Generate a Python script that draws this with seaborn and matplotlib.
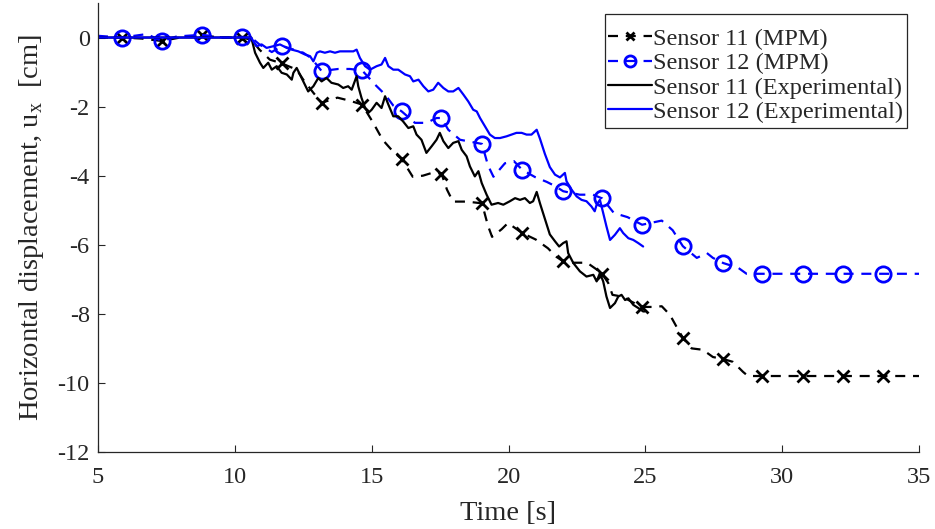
import numpy as np
import pandas as pd
import matplotlib
matplotlib.use("Agg")
import matplotlib.pyplot as plt
from matplotlib.patches import Rectangle
from matplotlib.transforms import IdentityTransform
import seaborn as sns

# ---------------- data ----------------
mpm11_t = [5.0, 5.87, 6.6, 7.33, 8.0, 8.79, 9.5, 10.25, 10.6, 10.9, 11.28, 11.72, 12.26, 12.5,
           12.87, 13.17, 13.75, 14.2, 14.65, 15.05, 15.4, 15.78, 16.1, 16.5, 16.87, 17.24,
           17.55, 17.75, 17.97, 18.48, 19.03, 19.25, 19.4, 19.75, 19.98, 20.5, 21.0, 21.44,
           21.75, 22.0, 22.36, 22.87, 23.23, 23.43, 23.64, 23.8, 24.15, 24.5, 24.88, 25.28,
           25.6, 25.9, 26.2, 26.37, 26.69, 27.1, 27.47, 27.85, 28.2, 28.57, 28.75, 29.28,
           30.76, 32.22, 33.68, 35.0]
mpm11_u = [0.0, 0.0, -0.03, -0.1, 0.0, 0.06, 0.0, 0.0, -0.06, -0.35, -0.64, -0.75, -0.93, -1.22,
           -1.6, -1.89, -1.74, -1.83, -1.94, -2.46, -2.96, -3.3, -3.52, -4.03, -4.0, -3.91,
           -3.94, -4.4, -4.75, -4.75, -4.8, -5.45, -5.77, -5.55, -5.37, -5.66, -5.85, -6.1,
           -6.35, -6.48, -6.52, -6.52, -6.72, -6.85, -7.1, -7.45, -7.5, -7.65, -7.8, -7.8,
           -7.78, -8.03, -8.46, -8.69, -9.0, -9.04, -9.25, -9.31, -9.39, -9.68, -9.8, -9.8,
           -9.8, -9.8, -9.8, -9.8]

mpm12_t = [5.0, 5.87, 6.78, 7.33, 7.87, 8.79, 9.57, 10.25, 10.6, 10.9, 11.35, 11.72, 12.5, 12.8,
           13.17, 13.78, 14.2, 14.65, 15.12, 15.49, 15.79, 16.1, 16.58, 17.0, 17.37, 17.55,
           17.8, 18.23, 18.7, 19.03, 19.25, 19.45, 19.87, 20.2, 20.5, 20.97, 21.4, 21.7,
           22.0, 22.6, 23.09, 23.43, 23.85, 24.35, 24.88, 25.6, 26.0, 26.37, 26.88, 27.25,
           27.47, 27.85, 28.4, 28.7, 29.28, 30.76, 32.22, 33.68, 35.0]
mpm12_u = [0.05, 0.0, 0.1, -0.1, 0.03, 0.08, 0.0, 0.02, 0.0, -0.2, -0.42, -0.24, -0.44, -0.6,
           -0.97, -0.91, -0.91, -0.95, -1.36, -1.65, -1.97, -2.14, -2.47, -2.47, -2.33, -2.33,
           -2.67, -2.96, -3.03, -3.08, -3.7, -4.03, -3.64, -3.58, -3.83, -4.04, -4.18, -4.3,
           -4.45, -4.55, -4.55, -4.66, -5.08, -5.2, -5.42, -5.3, -5.58, -6.04, -6.38, -6.24,
           -6.38, -6.53, -6.67, -6.84, -6.84, -6.84, -6.84, -6.84, -6.84]

marker_t = [5.87, 7.33, 8.79, 10.25, 11.72, 13.17, 14.65, 16.1, 17.55, 19.03, 20.5, 22.0,
            23.43, 24.88, 26.37, 27.85, 29.28, 30.76, 32.22, 33.68]

exp11_t = [5.0, 10.5, 10.6, 10.74, 10.92, 11.04, 11.22, 11.35, 11.53, 11.71, 11.9, 12.08, 12.14,
           12.26, 12.44, 12.68, 12.87, 13.05, 13.17, 13.35, 13.53, 13.78, 13.96, 14.14, 14.27,
           14.45, 14.51, 14.63, 14.76, 14.88, 15.0, 15.18, 15.36, 15.49, 15.61, 15.79, 15.97,
           16.15, 16.34, 16.52, 16.64, 16.82, 17.0, 17.19, 17.37, 17.49, 17.62, 17.8, 17.98,
           18.17, 18.29, 18.47, 18.59, 18.77, 18.9, 19.02, 19.2, 19.38, 19.62, 19.81, 20.05,
           20.24, 20.42, 20.6, 20.78, 20.9, 21.03, 21.15, 21.33, 21.51, 21.7, 21.85, 22.0,
           22.12, 22.18, 22.37, 22.61, 22.85, 23.1, 23.22, 23.34, 23.46, 23.58, 23.71, 23.89,
           24.01, 24.13, 24.26, 24.38, 24.56, 24.74, 24.92, 24.98]
exp11_u = [0.0, 0.0, 0.0, -0.44, -0.73, -0.88, -0.73, -0.93, -0.83, -1.02, -1.07, -1.22, -1.02,
           -0.88, -1.17, -1.56, -1.41, -1.17, -1.27, -1.17, -1.31, -1.36, -1.46, -1.41, -1.51,
           -1.12, -1.41, -1.75, -2.04, -2.18, -2.09, -1.89, -2.04, -1.7, -1.94, -2.28, -2.28,
           -2.43, -2.62, -2.57, -2.81, -2.96, -3.34, -3.15, -2.96, -2.76, -3.0, -3.2, -3.05,
           -3.0, -3.25, -3.44, -3.73, -4.02, -3.87, -4.21, -4.55, -4.84, -4.79, -4.84, -4.74,
           -4.65, -4.7, -4.65, -4.79, -4.74, -4.47, -4.8, -5.25, -5.7, -5.9, -6.05, -5.95,
           -5.9, -6.24, -6.53, -6.77, -6.92, -6.87, -7.06, -6.82, -7.06, -7.5, -7.83, -7.69,
           -7.5, -7.45, -7.6, -7.55, -7.74, -7.83, -7.93, -7.93]

exp12_t = [5.0, 10.5, 10.6, 10.67, 10.8, 10.98, 11.16, 11.41, 11.65, 11.9, 12.08, 12.32, 12.56,
           12.75, 12.87, 13.0, 13.11, 13.29, 13.48, 13.66, 13.84, 14.08, 14.33, 14.45, 14.57,
           14.76, 14.94, 15.18, 15.36, 15.49, 15.61, 15.79, 15.97, 16.22, 16.4, 16.52, 16.71,
           16.89, 17.07, 17.25, 17.43, 17.62, 17.8, 17.98, 18.17, 18.35, 18.53, 18.71, 18.84,
           18.96, 19.14, 19.32, 19.5, 19.69, 19.93, 20.11, 20.29, 20.48, 20.66, 20.84, 21.03,
           21.15, 21.33, 21.51, 21.7, 21.88, 22.06, 22.12, 22.31, 22.49, 22.67, 22.85, 23.03,
           23.15, 23.22, 23.34, 23.46, 23.58, 23.71, 23.89, 24.07, 24.19, 24.38, 24.56, 24.74,
           24.92]
exp12_u = [0.0, 0.0, 0.0, -0.1, -0.25, -0.2, -0.3, -0.25, -0.2, -0.3, -0.35, -0.4, -0.49,
           -0.54, -0.69, -0.44, -0.4, -0.44, -0.4, -0.44, -0.4, -0.4, -0.4, -0.35, -0.59,
           -0.83, -0.93, -0.83, -0.78, -0.59, -0.83, -0.93, -0.93, -1.07, -1.12, -1.27, -1.22,
           -1.41, -1.56, -1.51, -1.31, -1.46, -1.56, -1.56, -1.46, -1.65, -1.85, -2.09, -2.14,
           -2.33, -2.57, -2.81, -2.91, -2.91, -2.86, -2.81, -2.76, -2.76, -2.81, -2.81, -2.67,
           -2.93, -3.37, -3.75, -3.97, -4.05, -3.92, -4.16, -4.41, -4.6, -4.7, -4.74, -4.89,
           -5.03, -4.84, -4.7, -5.08, -5.47, -5.86, -5.71, -5.52, -5.66, -5.81, -5.86, -5.95,
           -6.05]

labels = ["Sensor 11 (MPM)", "Sensor 12 (MPM)",
          "Sensor 11 (Experimental)", "Sensor 12 (Experimental)"]
xticks = [5, 10, 15, 20, 25, 30, 35]
yticks = [0, -2, -4, -6, -8, -10, -12]

# ---------------- styling ----------------
sns.set_theme(style="white")
plt.rcParams["font.family"] = ["Liberation Serif", "DejaVu Serif"]
plt.rcParams["axes.unicode_minus"] = False
plt.rcParams["mathtext.fontset"] = "custom"
plt.rcParams["mathtext.rm"] = "Liberation Serif"

FS = 17.5
FSL = 20.5
W, H = 935, 529
fig = plt.figure(figsize=(W / 100, H / 100), dpi=100)
ax = fig.add_axes([98 / W, 1 - 452 / H, (919 - 98) / W, (452 - 3) / H])


def mark_idx(t):
    t = np.asarray(t)
    return [int(np.argmin(np.abs(t - m))) for m in marker_t]


df11 = pd.DataFrame({"t": mpm11_t, "u": mpm11_u})
df12 = pd.DataFrame({"t": mpm12_t, "u": mpm12_u})
de11 = pd.DataFrame({"t": exp11_t, "u": exp11_u})
de12 = pd.DataFrame({"t": exp12_t, "u": exp12_u})

lw = 1.6
BLUE = "#0000ff"
sns.lineplot(data=df11, x="t", y="u", ax=ax, color="black", lw=lw, estimator=None,
             sort=False, linestyle=(0, (4.5, 3.5)), marker="x", markersize=8,
             markeredgecolor="black", markerfacecolor="black",
             markeredgewidth=2.0, markevery=mark_idx(mpm11_t), label=labels[0])
sns.lineplot(data=df12, x="t", y="u", ax=ax, color=BLUE, lw=lw, estimator=None,
             sort=False, linestyle=(0, (4.5, 3.5)), marker="o", markersize=11,
             markerfacecolor="none", markeredgecolor=BLUE, markeredgewidth=2.0,
             markevery=mark_idx(mpm12_t), label=labels[1])
sns.lineplot(data=de11, x="t", y="u", ax=ax, color="black", lw=lw, estimator=None,
             sort=False, label=labels[2])
sns.lineplot(data=de12, x="t", y="u", ax=ax, color=BLUE, lw=lw, estimator=None,
             sort=False, label=labels[3])

ax.set_xlim(5, 35)
ax.set_ylim(-12, 1)
ax.set_xticks(xticks)
ax.set_yticks(yticks)
ax.set_xticklabels([str(v) for v in xticks], fontsize=FS)
ax.set_yticklabels([str(v) for v in yticks], fontsize=FS)
ax.tick_params(direction="in", length=5, width=0.8, colors="#262626",
               left=True, bottom=True)
ax.tick_params(axis="x", pad=11)
ax.tick_params(axis="y", pad=6)
for s in ["top", "right"]:
    ax.spines[s].set_visible(False)
for s in ["left", "bottom"]:
    ax.spines[s].set_color("#262626")
    ax.spines[s].set_linewidth(0.9)

ax.set_xlabel("Time [s]", fontsize=FSL, labelpad=9)
ax.set_ylabel(r"Horizontal displacement, u$_\mathregular{x}$  [cm]", fontsize=FSL, labelpad=8)

leg = ax.legend(loc="upper right", bbox_to_anchor=(907 / W, 1 - 24 / H),
                bbox_transform=fig.transFigure, fontsize=FS, frameon=False,
                borderpad=0.15, labelspacing=0.1,
                handlelength=1.8, handletextpad=0.05, borderaxespad=0, numpoints=1)
leg.set_zorder(6)
for h in leg.legend_handles:
    if h.get_marker() == "x":
        h.set_markersize(6)
    elif h.get_marker() == "o":
        h.set_markersize(8)

# legend frame: tight left/right, extra room on top (MATLAB style)
fig.canvas.draw()
ext = leg.get_window_extent(fig.canvas.get_renderer())
frame = Rectangle((ext.x0, ext.y0 - 1), ext.width, ext.height + 11,
                  transform=IdentityTransform(), facecolor="white", edgecolor="#262626",
                  linewidth=0.9, zorder=5)
frame.set_clip_on(False)
ax.add_artist(frame)

fig.savefig("out.png", dpi=100)
